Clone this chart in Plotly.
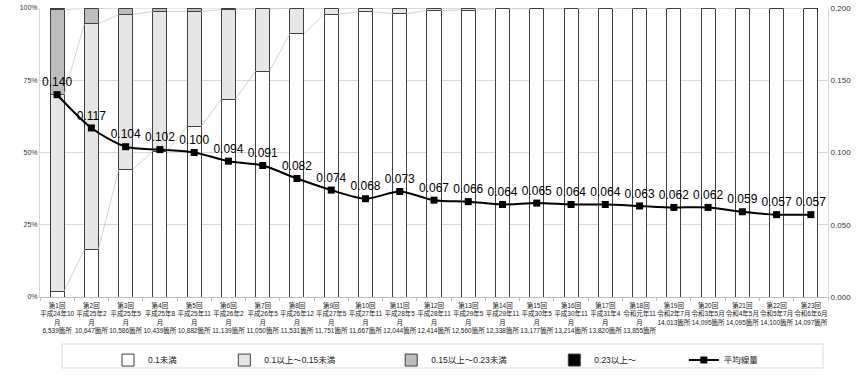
import plotly.graph_objects as go

# ---------------- data ----------------
rounds = ["第1回", "第2回", "第3回", "第4回", "第5回", "第6回", "第7回", "第8回",
          "第9回", "第10回", "第11回", "第12回", "第13回", "第14回", "第15回", "第16回",
          "第17回", "第18回", "第19回", "第20回", "第21回", "第22回", "第23回"]
periods = ["平成24年10月", "平成25年2月", "平成25年5月", "平成25年8月", "平成25年11月",
           "平成26年2月", "平成26年5月", "平成26年12月", "平成27年5月", "平成27年11月",
           "平成28年5月", "平成28年11月", "平成29年5月", "平成29年11月", "平成30年5月",
           "平成30年11月", "平成31年4月", "令和元年11月", "令和2年7月", "令和3年5月",
           "令和4年5月", "令和5年7月", "令和6年6月"]
sites = ["6,539箇所", "10,647箇所", "10,586箇所", "10,439箇所", "10,882箇所", "11,139箇所",
         "11,050箇所", "11,531箇所", "11,751箇所", "11,667箇所", "12,044箇所", "12,414箇所",
         "12,560箇所", "12,338箇所", "13,177箇所", "13,214箇所", "13,820箇所", "13,855箇所",
         "14,013箇所", "14,095箇所", "14,095箇所", "14,100箇所", "14,097箇所"]

# share of locations (%) by dose band
below_010 = [2.0, 16.5, 44.0, 50.5, 59.0, 68.5, 78.2, 91.2, 97.8, 98.7, 98.0, 99.2,
             99.3, 99.7, 99.7, 99.8, 99.9, 100, 100, 100, 100, 100, 100]
from_010_to_015 = [68.0, 78.0, 53.7, 48.3, 39.8, 31.0, 21.5, 8.7, 2.2, 1.3, 2.0, 0.8,
                   0.7, 0.3, 0.3, 0.2, 0.1, 0, 0, 0, 0, 0, 0]
from_015_to_023 = [29.5, 5.3, 2.3, 1.2, 1.2, 0.5, 0.3, 0.1, 0, 0, 0, 0,
                   0, 0, 0, 0, 0, 0, 0, 0, 0, 0, 0]
above_023 = [0.5, 0.2, 0, 0, 0, 0, 0, 0, 0, 0, 0, 0,
             0, 0, 0, 0, 0, 0, 0, 0, 0, 0, 0]
average_dose = [0.140, 0.117, 0.104, 0.102, 0.100, 0.094, 0.091, 0.082, 0.074, 0.068,
                0.073, 0.067, 0.066, 0.064, 0.065, 0.064, 0.064, 0.063, 0.062, 0.062,
                0.059, 0.057, 0.057]

band_names = ["0.1未満", "0.1以上～0.15未満", "0.15以上～0.23未満", "0.23以上～"]
line_name = "平均線量"

left_ticks = [0, 25, 50, 75, 100]
left_ticktext = ["0%", "25%", "50%", "75%", "100%"]
right_ticks = [0.0, 0.05, 0.10, 0.15, 0.20]

# ---------------- styling ----------------
FONT = "Liberation Sans, Noto Sans CJK JP, sans-serif"
band_colors = ["#FFFFFF", "#E6E6E6", "#BDBDBD", "#000000"]
BAR_W = 0.41
PAD = "\u3000" * 5

n = len(rounds)
xs = list(range(n))


def wrap(p):
    return p[:-1] + "<br>" + p[-1] if len(p) > 6 else p


ticktext = [f"{r}<br>{wrap(p)}<br>{s}" for r, p, s in zip(rounds, periods, sites)]

fig = go.Figure()

bands = [below_010, from_010_to_015, from_015_to_023, above_023]
pads = [PAD, "\u3000" * 6, PAD, PAD]
for name, vals, col, pad in zip(band_names, bands, band_colors, pads):
    fig.add_trace(go.Bar(
        x=xs, y=vals, name=name + pad, width=BAR_W,
        marker=dict(color=col, line=dict(color="#3F3F3F", width=1)),
        hoverinfo="skip",
    ))

# series lines connecting segment tops of adjacent bars
cum = [0.0] * n
for vals in bands[:3]:
    cum = [c + v for c, v in zip(cum, vals)]
    lx, ly = [], []
    for i in range(n - 1):
        lx += [i + BAR_W / 2, i + 1 - BAR_W / 2, None]
        ly += [cum[i], cum[i + 1], None]
    fig.add_trace(go.Scatter(
        x=lx, y=ly, mode="lines", showlegend=False, hoverinfo="skip",
        line=dict(color="#C8C8C8", width=0.8),
    ))

fig.add_trace(go.Scatter(
    x=xs, y=average_dose, name=line_name, yaxis="y2",
    mode="lines+markers+text",
    line=dict(color="#000000", width=2, shape="spline", smoothing=0.8),
    marker=dict(symbol="square", size=7, color="#000000"),
    text=[f"{v:.3f}" for v in average_dose], textposition="top center",
    textfont=dict(family=FONT, size=12, color="#000000"),
    cliponaxis=False,
))

fig.update_layout(
    width=860, height=375,
    margin=dict(l=40, r=32, t=8, b=78, autoexpand=False),
    paper_bgcolor="white", plot_bgcolor="white",
    barmode="stack",
    font=dict(family=FONT, color="#222222"),
    showlegend=True,
    legend=dict(
        orientation="h", x=0.0863, xanchor="left", y=-0.168, yanchor="top",
        font=dict(size=8.5, family=FONT, color="#222222"),
        bgcolor="rgba(0,0,0,0)", borderwidth=0, traceorder="normal",
    ),
    xaxis=dict(
        range=[-0.5, n - 0.5], tickmode="array", tickvals=xs, ticktext=ticktext,
        tickangle=0, automargin=False, ticklabelstandoff=2,
        tickfont=dict(size=6.5, color="#222222"), showgrid=False, zeroline=False,
        showline=True, linecolor="#BFBFBF", linewidth=1, ticks="",
        minor=dict(tickmode="array", tickvals=[i - 0.5 for i in range(n + 1)],
                   ticks="outside", ticklen=3, tickcolor="#BFBFBF"),
    ),
    yaxis=dict(
        range=[0, 100], tickmode="array", tickvals=left_ticks, ticktext=left_ticktext,
        automargin=False,
        tickfont=dict(size=7, color="#333333"), showgrid=True, gridcolor="#D9D9D9",
        zeroline=False, showline=True, linecolor="#D9D9D9", ticks="",
    ),
    yaxis2=dict(
        range=[0, 0.2], overlaying="y", side="right", tickmode="array",
        tickvals=right_ticks, tickformat=".3f", automargin=False,
        tickfont=dict(size=8, color="#333333"), showgrid=False, zeroline=False,
        showline=True, linecolor="#D9D9D9", ticks="",
    ),
    shapes=[dict(type="rect", xref="paper", yref="paper",
                 x0=(62 - 40) / 788, x1=(823 - 40) / 788,
                 y0=-(368 - 297) / 289, y1=-(344 - 297) / 289,
                 line=dict(color="#D9D9D9", width=1), fillcolor="rgba(0,0,0,0)")],
)

fig.write_html("out.html")
